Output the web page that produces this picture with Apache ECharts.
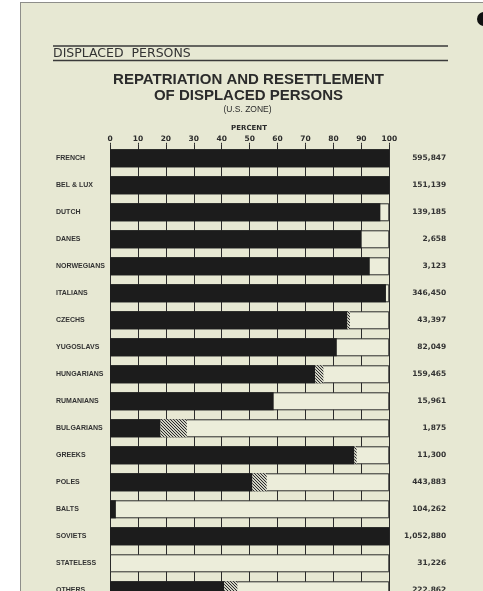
<!DOCTYPE html>
<html><head><meta charset="utf-8">
<script src="https://cdn.jsdelivr.net/npm/echarts@6/dist/echarts.min.js"></script>
<style>
html,body{margin:0;padding:0;background:#fff;width:483px;height:591px;overflow:hidden;}
#paper{position:absolute;left:20px;top:2px;width:480px;height:640px;background:#e7e8d3;border:1.5px solid #8e8e8a;}
#chart{position:absolute;left:0;top:0;width:483px;height:640px;}
</style></head><body><div id="paper"></div><div id="chart"></div>
<script>
const categories = ['FRENCH','BEL & LUX','DUTCH','DANES','NORWEGIANS','ITALIANS','CZECHS','YUGOSLAVS','HUNGARIANS','RUMANIANS','BULGARIANS','GREEKS','POLES','BALTS','SOVIETS','STATELESS','OTHERS'];
const repatriated = [100,100,96.8,90.1,93,98.8,85,81.2,73.5,58.6,18.1,87.5,51,2.1,100,0,40.9];
const resettled = [0,0,0,0,0,0,0.9,0,2.9,0,9.4,0.8,5.1,0,0,0,4.7];
const totals = ['595,847','151,139','139,185','2,658','3,123','346,450','43,397','82,049','159,465','15,961','1,875','11,300','443,883','104,262','1,052,880','31,226','222,862'];
const percentTicks = [0,10,20,30,40,50,60,70,80,90,100];

const pc = document.createElement('canvas'); pc.width = 3; pc.height = 3;
const g = pc.getContext('2d');
g.fillStyle = '#cfd0c2'; g.fillRect(0,0,3,3);
g.fillStyle = '#2a2a2a'; for (let i = 0; i < 3; i++) g.fillRect(i, i, 1, 1);

const ink = '#2b2b2b';
const chart = echarts.init(document.getElementById('chart'), null, {renderer:'canvas'});
chart.setOption({
  backgroundColor: 'transparent',
  animation: false,
  grid: {left: 110, top: 144.8, width: 279.3, height: 459},
  xAxis: {
    type: 'value', position: 'top', min: percentTicks[0], max: percentTicks[percentTicks.length-1], interval: 10,
    axisLine: {show: false},
    axisTick: {show: true, length: 2, lineStyle: {color: ink, width: 1}},
    splitLine: {show: true, lineStyle: {color: ink, width: 1}},
    axisLabel: {margin: 2, color: ink, fontFamily: 'DejaVu Sans', fontWeight: 'bold', fontSize: 7.5}
  },
  yAxis: [
    {type: 'category', data: categories, inverse: true,
     axisLine: {show: false}, axisTick: {show: false}, splitLine: {show: false},
     axisLabel: {align: 'left', margin: 54, color: '#333', fontFamily: 'Liberation Sans', fontWeight: 'bold', fontSize: 7}},
    {type: 'category', data: totals, inverse: true, position: 'right',
     axisLine: {show: false}, axisTick: {show: false}, splitLine: {show: false},
     axisLabel: {align: 'right', margin: 57, color: '#333', fontFamily: 'DejaVu Sans', fontWeight: 'bold', fontSize: 7.5}}
  ],
  series: [
    {name: 'Row', type: 'bar', yAxisIndex: 0, data: categories.map(() => percentTicks[percentTicks.length-1]), barWidth: 18, barGap: '-100%', silent: true, z: 2,
     itemStyle: {color: '#ecedda', borderColor: ink, borderWidth: 1}},
    {name: 'Repatriated', type: 'bar', yAxisIndex: 0, stack: 's', data: repatriated, barWidth: 18, barGap: '-100%', z: 3,
     itemStyle: {color: '#1c1c1c'}},
    {name: 'Resettled', type: 'bar', yAxisIndex: 0, stack: 's', data: resettled, barWidth: 18, barGap: '-100%', z: 3,
     itemStyle: {color: {image: pc, repeat: 'repeat'}}}
  ],
  graphic: [
    {type: 'line', shape: {x1: 53, y1: 46, x2: 448, y2: 46}, style: {stroke: '#3a3a3a', lineWidth: 1.5}},
    {type: 'line', shape: {x1: 53, y1: 60.5, x2: 448, y2: 60.5}, style: {stroke: '#3a3a3a', lineWidth: 1.5}},
    {type: 'text', style: {text: 'DISPLACED  PERSONS', x: 53, y: 53.5, textVerticalAlign: 'middle', textAlign: 'left', font: '12.5px "DejaVu Sans"', fill: '#333'}},
    {type: 'text', style: {text: 'REPATRIATION AND RESETTLEMENT', x: 248.5, y: 80, textVerticalAlign: 'middle', textAlign: 'center', font: 'bold 15px "Liberation Sans"', fill: ink}},
    {type: 'text', style: {text: 'OF DISPLACED PERSONS', x: 248.5, y: 95.5, textVerticalAlign: 'middle', textAlign: 'center', font: 'bold 15px "Liberation Sans"', fill: ink}},
    {type: 'text', style: {text: '(U.S. ZONE)', x: 247.5, y: 110, textVerticalAlign: 'middle', textAlign: 'center', font: '8.5px "Liberation Sans"', fill: ink}},
    {type: 'text', style: {text: 'PERCENT', x: 249, y: 128, textVerticalAlign: 'middle', textAlign: 'center', font: 'bold 7px "DejaVu Sans"', fill: ink}},
    {type: 'circle', shape: {cx: 484, cy: 19, r: 7}, style: {fill: '#111'}}
  ]
});
</script></body></html>
